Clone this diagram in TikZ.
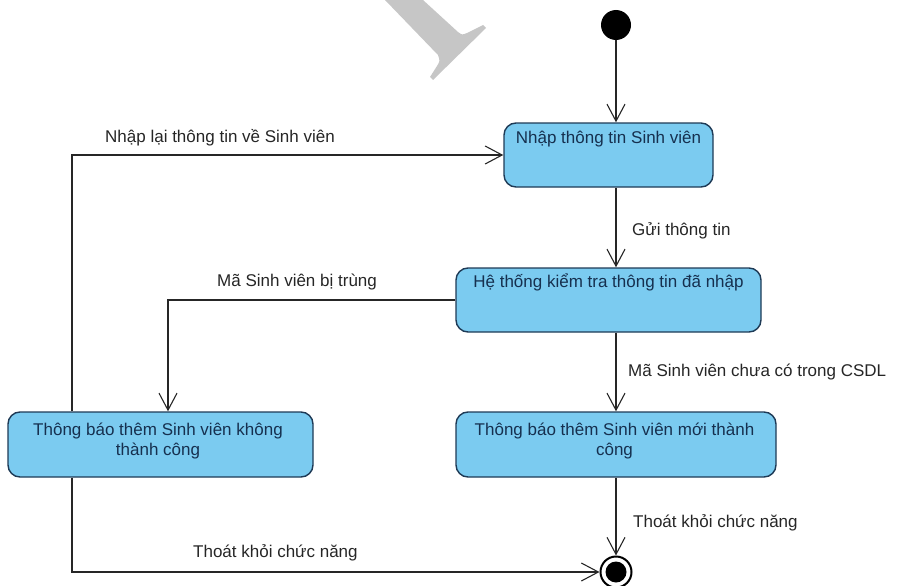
\documentclass[tikz,border=0pt]{standalone}
\usepackage{fontspec}
\setmainfont{Liberation Sans}
\usetikzlibrary{arrows.meta}
\definecolor{boxfill}{HTML}{7BCBF0}
\definecolor{boxline}{HTML}{1E3A56}
\definecolor{boxink}{HTML}{16304F}
\definecolor{lineink}{HTML}{262626}
\definecolor{markgray}{HTML}{C6C6C6}
\begin{document}
\begin{tikzpicture}[x=1pt,y=-1pt,
  font=\fontsize{17}{20}\selectfont,
  state/.style={draw=boxline, line width=1.4pt, fill=boxfill, rounded corners=12pt, inner sep=0pt},
  statetext/.style={text=boxink, inner sep=0pt},
  lbl/.style={text=lineink, inner sep=0pt},
  flow/.style={draw=lineink, line width=1.2pt, -{Straight Barb[length=17pt,width=18pt,line width=1.1pt]}},
  link/.style={draw=lineink, line width=1.2pt}]
\useasboundingbox (0,0) rectangle (897,586);

% faint mark in the upper area
\fill[markgray] (385,0) -- (423,0) -- (458,32) .. controls (462,35) .. (467,33)
  -- (483,25) -- (486,28) -- (433,80) -- (430,77) -- (437,66) .. controls (440,61) .. (438,55) -- cycle;

% start and end points
\node[circle, fill=black, minimum size=30pt, inner sep=0pt] (init) at (616,25) {};
\node[circle, draw=black, line width=2pt, fill=white, minimum size=31pt, inner sep=0pt] (fin) at (616,572) {};
\node[circle, fill=black, minimum size=21pt, inner sep=0pt] (finc) at (fin.center) {};

% states
\node[state, minimum width=209pt, minimum height=64pt] (b1) at (608.5,155) {};
\node[statetext, anchor=base] (b1t) at (608.5,143) {Nhập thông tin Sinh viên};

\node[state, minimum width=305pt, minimum height=64pt] (b2) at (608.5,300) {};
\node[statetext, anchor=base] (b2t) at (608.5,287) {Hệ thống kiểm tra thông tin đã nhập};

\node[state, minimum width=305pt, minimum height=65pt] (b3) at (160.5,444.5) {};
\node[statetext, anchor=base] (b3t1) at (158,435) {Thông báo thêm Sinh viên không};
\node[statetext, anchor=base] (b3t2) at (158,455) {thành công};

\node[state, minimum width=320pt, minimum height=65pt] (b4) at (616,444.5) {};
\node[statetext, anchor=base] (b4t1) at (614.5,435) {Thông báo thêm Sinh viên mới thành};
\node[statetext, anchor=base] (b4t2) at (614.5,455) {công};

% transitions
\draw[flow] (init) -- (init |- b1.north);
\draw[flow] (init |- b1.south) -- (init |- b2.north);
\draw[flow] (init |- b2.south) -- (init |- b4.north);
\draw[flow] (init |- b4.south) -- (fin);
\draw[flow] (b2.west) -| ([xshift=7.5pt]b3.north);
\draw[flow] ([xshift=-88.5pt]b3.north) |- (b1.west);
\draw[flow] ([xshift=-88.5pt]b3.south) |- (fin);

% transition labels
\node[lbl, anchor=base west] (g1) at (632,235) {Gửi thông tin};
\node[lbl, anchor=base west] (g2) at (628,376) {Mã Sinh viên chưa có trong CSDL};
\node[lbl, anchor=base west] (g3) at (633,527) {Thoát khỏi chức năng};
\node[lbl, anchor=base west] (g4) at (217,286) {Mã Sinh viên bị trùng};
\node[lbl, anchor=base west] (g5) at (105,142) {Nhập lại thông tin về Sinh viên};
\node[lbl, anchor=base west] (g6) at (193,557) {Thoát khỏi chức năng};
\end{tikzpicture}
\end{document}
